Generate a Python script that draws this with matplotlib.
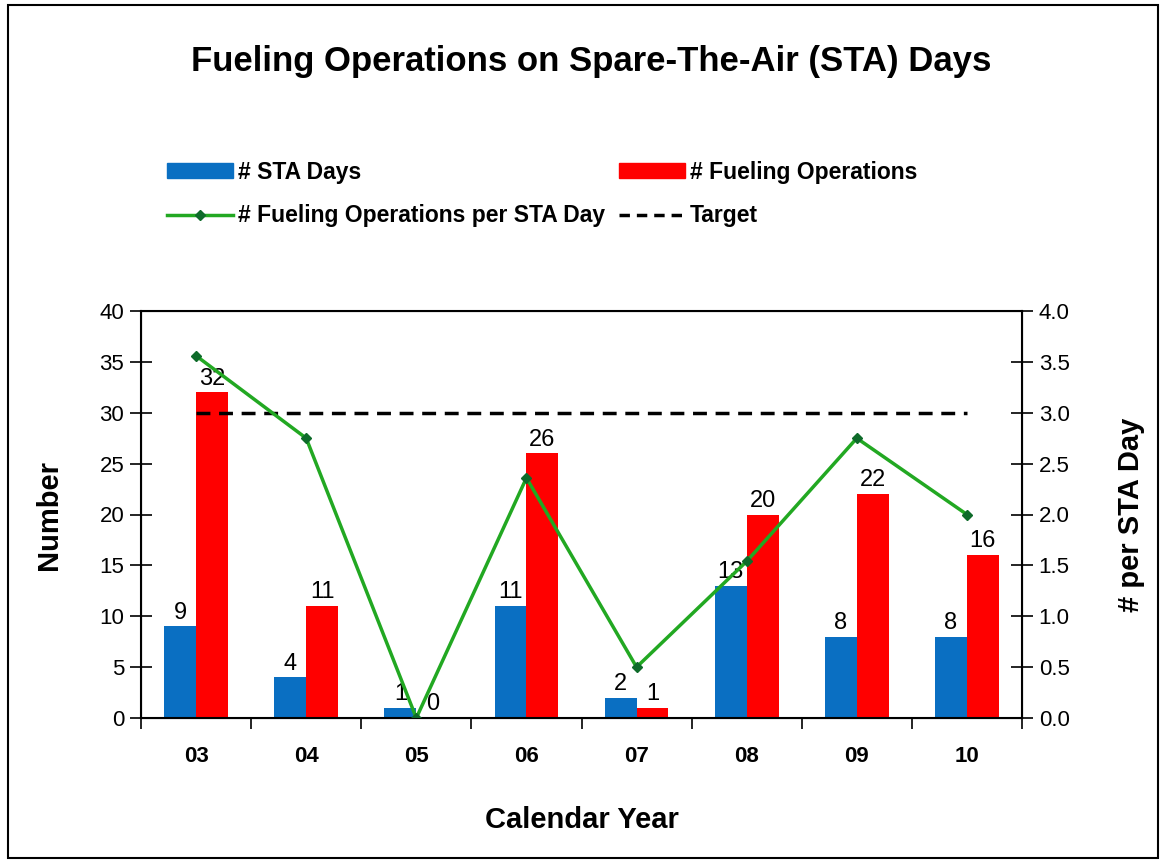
import matplotlib.pyplot as plt
from matplotlib.lines import Line2D
from matplotlib.patches import Patch, Rectangle
import numpy as np

plt.rcParams['font.family'] = ['Liberation Sans', 'DejaVu Sans']

years = ["03", "04", "05", "06", "07", "08", "09", "10"]
sta_days = [9, 4, 1, 11, 2, 13, 8, 8]
fueling_ops = [32, 11, 0, 26, 1, 20, 22, 16]
ops_per_day = [3.56, 2.75, 0.0, 2.36, 0.5, 1.54, 2.75, 2.0]
target = [3.0] * 8

blue = "#0A6FC2"
red = "#FF0000"
green = "#22A822"

fig = plt.figure(figsize=(11.63, 8.65), dpi=100)
ax = fig.add_axes([141/1163, 1-718/865, (1022-141)/1163, (718-311)/865])

x = np.arange(len(years))
w = 0.29
b1 = ax.bar(x - w/2, sta_days, w, color=blue, zorder=2)
b2 = ax.bar(x + w/2, fueling_ops, w, color=red, zorder=2)
for rect, v in zip(b1, sta_days):
    ax.annotate(str(v), (rect.get_x() + rect.get_width()/2, v), xytext=(0, 2),
                textcoords="offset points", ha="center", va="bottom", fontsize=17)
for rect, v in zip(b2, fueling_ops):
    ax.annotate(str(v), (rect.get_x() + rect.get_width()/2, v), xytext=(0, 2),
                textcoords="offset points", ha="center", va="bottom", fontsize=17)

ax.set_xlim(-0.5, 7.5)
ax.set_ylim(0, 40)
ax.set_yticks(range(0, 41, 5))
ax.set_xticks(np.arange(-0.5, 7.6, 1))
ax.set_xticklabels([])
ax.set_xticks(x, minor=True)
ax.set_xticklabels(years, minor=True, fontsize=16, fontweight="bold")
ax.tick_params(axis="x", which="major", direction="out", length=8, width=1.2)
ax.tick_params(axis="x", which="minor", length=0, pad=20)
ax.tick_params(axis="y", direction="inout", length=16, width=1.2, labelsize=16, pad=4)
for s in ax.spines.values():
    s.set_linewidth(1.5)
ax.set_ylabel("Number", fontsize=21, fontweight="bold", labelpad=26)
ax.set_xlabel("Calendar Year", fontsize=21, fontweight="bold", labelpad=28)

ax2 = ax.twinx()
ax2.set_ylim(0, 4)
ax2.set_yticks(np.arange(0, 4.01, 0.5))
ax2.set_yticklabels([f"{v:.1f}" for v in np.arange(0, 4.01, 0.5)])
ax2.tick_params(axis="y", direction="inout", length=16, width=1.2, labelsize=16, pad=4)
ax2.plot(x, target, color="black", linestyle=(0, (4, 2.5)), linewidth=2.5)
ax2.plot(x, ops_per_day, color=green, linewidth=2.5, marker="D", markersize=5,
         markerfacecolor="#0E6B2A", markeredgecolor="#0E6B2A")
ax2.set_ylabel("# per STA Day", fontsize=21, fontweight="bold", labelpad=34)

fig.text(0.508, 1-62/865, "Fueling Operations on Spare-The-Air (STA) Days",
         ha="center", va="center", fontsize=25, fontweight="bold")

handles = [Patch(color=blue),
           Line2D([], [], color=green, linewidth=2.5, marker="D", markersize=5,
                  markerfacecolor="#0E6B2A", markeredgecolor="#0E6B2A"),
           Patch(color=red),
           Line2D([], [], color="black", linestyle=(0, (3, 2)), linewidth=2.5)]
labels = ["# STA Days", "# Fueling Operations per STA Day",
          "# Fueling Operations", "Target"]
fig.legend(handles, labels, ncol=2, loc="upper left",
           bbox_to_anchor=(146/1163, 1-140/865), frameon=False,
           prop={"weight": "bold", "size": 16.5}, handlelength=2.9,
           handleheight=0.6, handletextpad=0.2, columnspacing=0.6,
           labelspacing=0.9)

fig.patches.append(Rectangle((8/1163, 7/865), 1150/1163, 853/865,
                             transform=fig.transFigure, fill=False,
                             edgecolor="black", linewidth=1.5))

plt.savefig("out.png", dpi=100)
